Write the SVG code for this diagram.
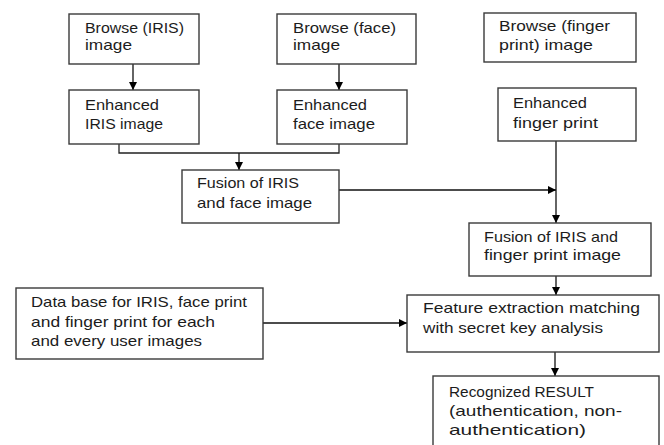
<svg xmlns="http://www.w3.org/2000/svg" width="664" height="445" viewBox="0 0 664 445">
<defs>
<marker id="ah" markerWidth="10" markerHeight="10" refX="8" refY="4" orient="auto" markerUnits="userSpaceOnUse">
<path d="M0,0 L8,4 L0,8 Z" fill="#000"/>
</marker>
<style>
.box{fill:#fff;stroke:#3a3a3a;stroke-width:1.4}
.t{font-family:"Liberation Sans",Arial,sans-serif;font-size:15px;fill:#1c1c1c}
.c{fill:none;stroke:#222;stroke-width:1.3}
.a{fill:none;stroke:#111;stroke-width:1.3;marker-end:url(#ah)}
</style>
</defs>
<rect width="664" height="445" fill="#fff"/>
<g id="connectors">
<line class="a" x1="133" y1="64" x2="133" y2="90"/>
<line class="a" x1="339" y1="64" x2="339" y2="90"/>
<polyline class="c" points="119,144 119,153 339,153 339,144"/>
<line class="a" x1="239" y1="153" x2="239" y2="170"/>
<line class="a" x1="339" y1="190" x2="556" y2="190"/>
<line class="a" x1="556" y1="141" x2="556" y2="223"/>
<line class="a" x1="556" y1="276" x2="556" y2="295"/>
<line class="a" x1="263" y1="323" x2="407" y2="323"/>
<line class="a" x1="555" y1="352" x2="555" y2="376"/>
</g>
<g id="browse-iris">
<rect class="box" x="69" y="14" width="130" height="50"/>
<text class="t" x="85" y="33" textLength="99" lengthAdjust="spacingAndGlyphs">Browse (IRIS)</text>
<text class="t" x="85" y="50" textLength="47" lengthAdjust="spacingAndGlyphs">image</text>
</g>
<g id="browse-face">
<rect class="box" x="277" y="14" width="139" height="50"/>
<text class="t" x="293" y="33" textLength="103" lengthAdjust="spacingAndGlyphs">Browse (face)</text>
<text class="t" x="293" y="50" textLength="47" lengthAdjust="spacingAndGlyphs">image</text>
</g>
<g id="browse-finger">
<rect class="box" x="484" y="13" width="152" height="49"/>
<text class="t" x="499" y="31" textLength="111" lengthAdjust="spacingAndGlyphs">Browse (finger</text>
<text class="t" x="499" y="50" textLength="94" lengthAdjust="spacingAndGlyphs">print) image</text>
</g>
<g id="enhanced-iris">
<rect class="box" x="69" y="90" width="130" height="54"/>
<text class="t" x="85" y="110" textLength="74" lengthAdjust="spacingAndGlyphs">Enhanced</text>
<text class="t" x="85" y="129" textLength="78" lengthAdjust="spacingAndGlyphs">IRIS image</text>
</g>
<g id="enhanced-face">
<rect class="box" x="277" y="90" width="130" height="54"/>
<text class="t" x="293" y="110" textLength="74" lengthAdjust="spacingAndGlyphs">Enhanced</text>
<text class="t" x="293" y="129" textLength="82" lengthAdjust="spacingAndGlyphs">face image</text>
</g>
<g id="enhanced-finger">
<rect class="box" x="498" y="88" width="138" height="53"/>
<text class="t" x="513" y="108" textLength="74" lengthAdjust="spacingAndGlyphs">Enhanced</text>
<text class="t" x="513" y="128" textLength="85" lengthAdjust="spacingAndGlyphs">finger print</text>
</g>
<g id="fusion-iris-face">
<rect class="box" x="182" y="170" width="157" height="53"/>
<text class="t" x="197" y="188" textLength="102" lengthAdjust="spacingAndGlyphs">Fusion of IRIS</text>
<text class="t" x="197" y="208" textLength="115" lengthAdjust="spacingAndGlyphs">and face image</text>
</g>
<g id="fusion-iris-finger">
<rect class="box" x="469" y="223" width="182" height="53"/>
<text class="t" x="484" y="242" textLength="134" lengthAdjust="spacingAndGlyphs">Fusion of IRIS and</text>
<text class="t" x="484" y="260" textLength="137" lengthAdjust="spacingAndGlyphs">finger print image</text>
</g>
<g id="database">
<rect class="box" x="16" y="288" width="247" height="71"/>
<text class="t" x="31" y="307" textLength="216" lengthAdjust="spacingAndGlyphs">Data base for IRIS, face print</text>
<text class="t" x="31" y="327" textLength="184" lengthAdjust="spacingAndGlyphs">and finger print for each</text>
<text class="t" x="31" y="346" textLength="171" lengthAdjust="spacingAndGlyphs">and every user images</text>
</g>
<g id="feature">
<rect class="box" x="407" y="295" width="252" height="57"/>
<text class="t" x="423" y="313" textLength="217" lengthAdjust="spacingAndGlyphs">Feature extraction matching</text>
<text class="t" x="423" y="333" textLength="180" lengthAdjust="spacingAndGlyphs">with secret key analysis</text>
</g>
<g id="result">
<rect class="box" x="433" y="376" width="226" height="75"/>
<text class="t" x="449" y="397" textLength="145" lengthAdjust="spacingAndGlyphs">Recognized RESULT</text>
<text class="t" x="449" y="416" textLength="173" lengthAdjust="spacingAndGlyphs">(authentication, non-</text>
<text class="t" x="449" y="435" textLength="137" lengthAdjust="spacingAndGlyphs">authentication)</text>
</g>
</svg>
